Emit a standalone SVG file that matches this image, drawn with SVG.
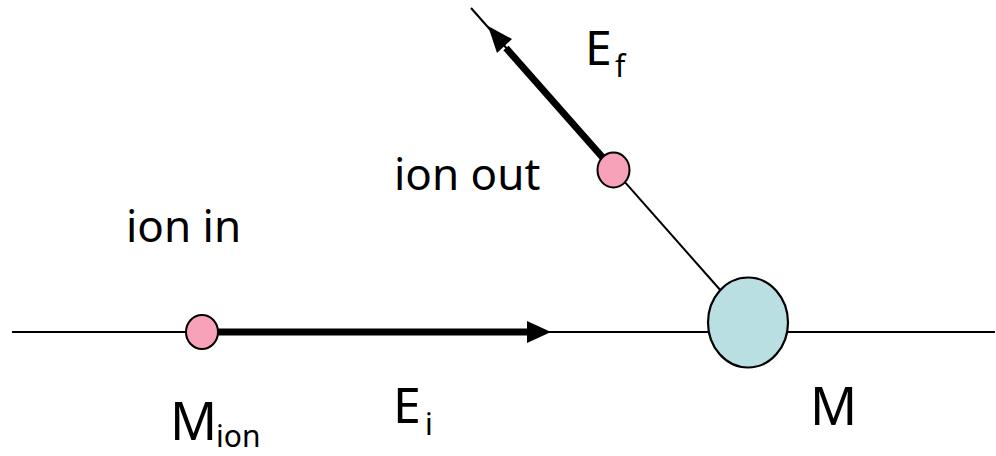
<svg xmlns="http://www.w3.org/2000/svg" width="996" height="456" viewBox="0 0 996 456">
<style>
.thin{stroke:#000;stroke-width:2;fill:none}
.thick{stroke:#000;stroke-width:7;fill:none}
.head{fill:#000;stroke:none}
.ion{fill:#F8A2B9;stroke:#000;stroke-width:2}
.target{fill:#B9DFE3;stroke:#000;stroke-width:2.2}
text{font-family:"Comic Sans MS","Noto Sans","DejaVu Sans",sans-serif;fill:#000}
.lbl{font-size:44px}
.big{font-size:50px}
.sub{font-size:30px}
</style>
<rect width="996" height="456" fill="#fff"/>
<g id="connectors">
<line class="thin" x1="12" y1="332" x2="995" y2="332"/>
<line class="thin" x1="471" y1="8" x2="722" y2="292"/>
<line class="thick" x1="215" y1="332" x2="530" y2="332"/>
<polygon class="head" points="527,321 551,332 527,343"/>
<line class="thick" x1="604" y1="159" x2="506" y2="48"/>
<polygon class="head" points="512,39 488,26 497,53"/>
</g>
<g id="ion-in">
<ellipse class="ion" cx="202" cy="332" rx="16" ry="17"/>
</g>
<g id="ion-out">
<ellipse class="ion" cx="613.5" cy="170" rx="16" ry="17.5"/>
</g>
<g id="target-M">
<ellipse class="target" cx="748" cy="322.5" rx="40" ry="45"/>
</g>
<g id="labels">
<text class="lbl" x="126" y="242">ion in</text>
<text class="lbl" x="394" y="190">ion out</text>
<text class="big" x="585" y="65" style="font-size:48px">E</text><text class="sub" x="615" y="77">f</text>
<text class="big" x="393" y="423">E</text><text class="sub" x="425" y="435">i</text>
<text class="big" x="170" y="440" style="font-size:52px">M</text><text class="sub" x="216" y="447">ion</text>
<text class="big" x="810" y="425" style="font-size:52px">M</text>
</g>
</svg>
